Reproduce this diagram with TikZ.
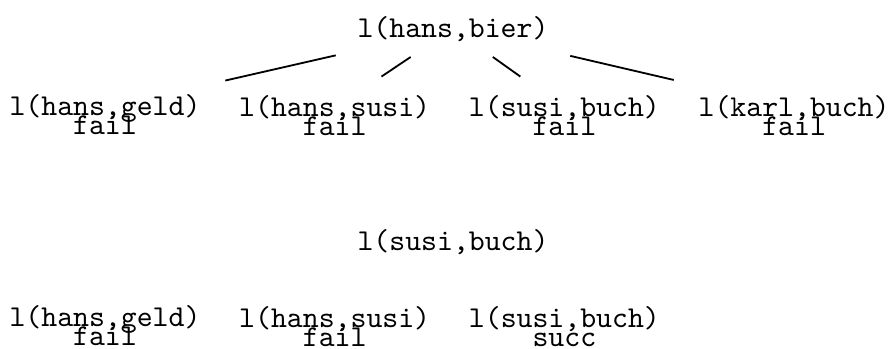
\documentclass[tikz,border=0pt]{standalone}
\usetikzlibrary{positioning}

\begin{document}
\begin{tikzpicture}[x=0.33pt,y=-0.33pt,node distance=75.8pt,on grid,
    goal/.style={font=\ttfamily,inner xsep=8pt,inner ysep=6pt},
    top/.style={goal,inner xsep=7pt,inner ysep=5pt},
    res/.style={font=\ttfamily,inner sep=0pt,anchor=base}]
                \useasboundingbox (0,0) rectangle (895,349);
                % first query
                \node[top,anchor=base] (hb) at (453,37) {l(hans,bier)};
                \node[goal,anchor=base] (hg) at (105,115) {l(hans,geld)};
                \node[goal] (hs) [right=of hg] {l(hans,susi)};
                \node[goal] (sb) [right=of hs] {l(susi,buch)};
                \node[goal] (kb) [right=of sb] {l(karl,buch)};
                \node[res] (hg_r) at ([yshift=-6.3pt]hg.base) {fail};
                \node[res] (hs_r) at ([yshift=-6.3pt]hs.base) {fail};
                \node[res] (sb_r) at ([yshift=-6.3pt]sb.base) {fail};
                \node[res] (kb_r) at ([yshift=-6.3pt]kb.base) {fail};
                \path[draw,line width=0.6pt]
                (hb) edge (hg)
                (hb) edge (hs)
                (hb) edge (sb)
                (hb) edge (kb);
                % second query
                \node[top,anchor=base] (sb2) at (453,250) {l(susi,buch)};
                \node[goal,anchor=base] (hg2) at (105,326) {l(hans,geld)};
                \node[goal] (hs2) [right=of hg2] {l(hans,susi)};
                \node[goal] (sb3) [right=of hs2] {l(susi,buch)};
                \node[res] (hg2_r) at ([yshift=-6.3pt]hg2.base) {fail};
                \node[res] (hs2_r) at ([yshift=-6.3pt]hs2.base) {fail};
                \node[res] (sb3_r) at ([yshift=-6.3pt]sb3.base) {succ};
            \end{tikzpicture}
\end{document}
